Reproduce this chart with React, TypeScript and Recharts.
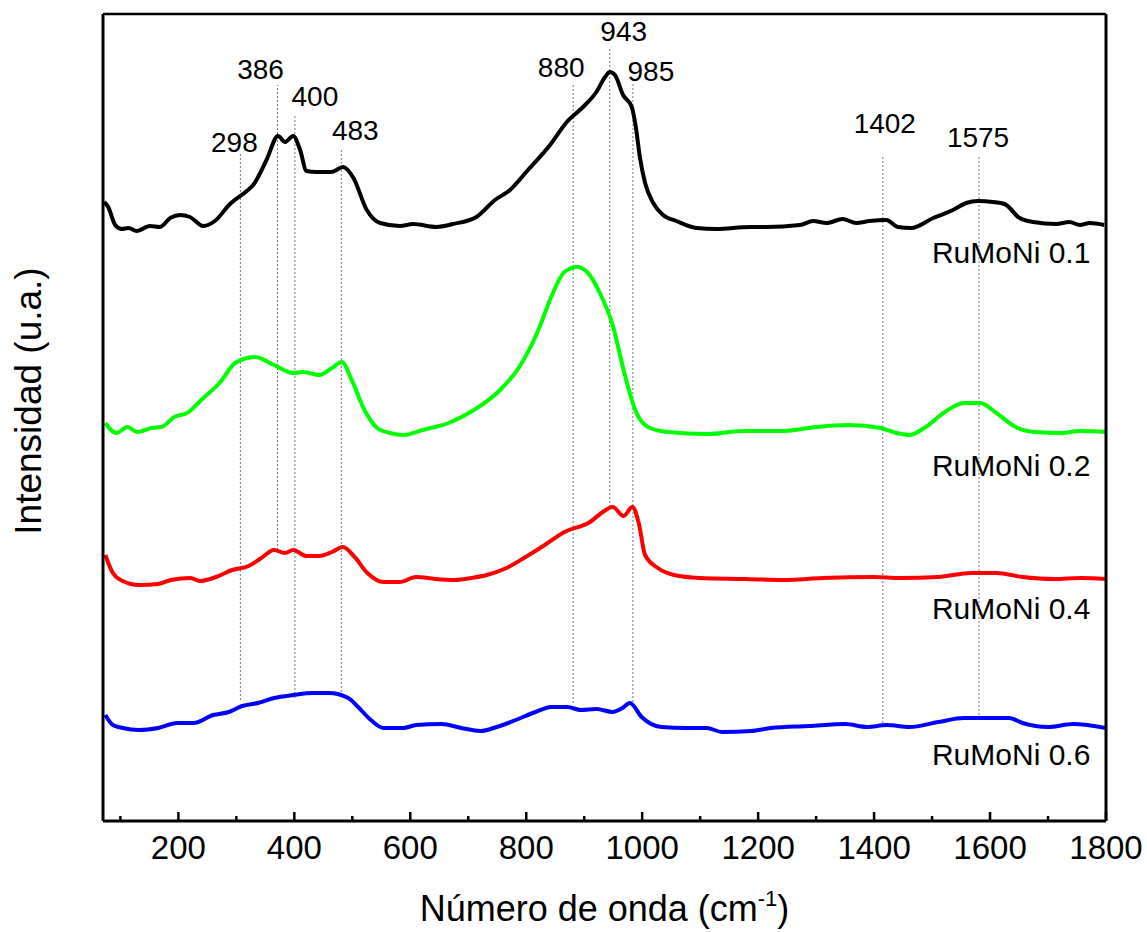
import { LineChart, Line, XAxis, YAxis, ReferenceLine, ReferenceDot } from "recharts";

// Raman spectra, wavenumber (cm-1) vs. offset intensity (a.u.)
const wn01 = [72, 79, 91, 102, 114, 128, 151, 168, 186, 203, 220, 243, 263, 289, 318, 329, 352, 372, 384, 398, 410, 421, 438, 464, 484, 502, 525, 548, 582, 605, 645, 674, 714, 746, 772, 800, 841, 870, 898, 921, 936, 944, 953, 967, 982, 989, 996, 1005, 1019, 1036, 1059, 1094, 1128, 1186, 1214, 1272, 1295, 1318, 1346, 1369, 1392, 1421, 1441, 1464, 1502, 1536, 1559, 1579, 1605, 1625, 1651, 1674, 1714, 1737, 1755, 1772, 1797];
const int01 = [619, 614, 596, 592, 593, 590, 595, 594, 603, 606, 604, 595, 600, 617, 630, 636, 661, 685, 679, 685, 671, 650, 649, 649, 654, 643, 611, 598, 595, 597, 594, 597, 604, 621, 631, 649, 676, 699, 714, 729, 744, 749, 746, 726, 714, 694, 664, 638, 618, 606, 600, 593, 592, 594, 594, 596, 600, 598, 602, 598, 600, 601, 594, 593, 603, 611, 618, 620, 619, 617, 603, 599, 597, 599, 596, 598, 596];

const wn02 = [74, 93, 112, 129, 154, 171, 193, 215, 243, 271, 298, 332, 365, 398, 415, 443, 465, 482, 499, 521, 543, 565, 588, 621, 666, 710, 755, 788, 821, 843, 866, 888, 905, 927, 949, 971, 988, 1010, 1044, 1111, 1177, 1244, 1300, 1355, 1411, 1439, 1461, 1489, 1522, 1555, 1583, 1611, 1644, 1678, 1722, 1756, 1800];
const int02 = [398, 388, 394, 389, 393, 394, 404, 408, 423, 438, 458, 464, 456, 448, 449, 446, 453, 459, 441, 411, 393, 388, 386, 391, 398, 411, 431, 454, 491, 524, 549, 554, 549, 528, 496, 444, 411, 394, 389, 387, 390, 390, 394, 396, 393, 388, 386, 394, 409, 418, 418, 408, 394, 389, 388, 390, 389];

const wn04 = [74, 87, 104, 132, 165, 187, 221, 237, 265, 293, 321, 343, 365, 384, 398, 421, 443, 465, 484, 504, 526, 554, 582, 610, 643, 677, 705, 732, 766, 799, 832, 866, 910, 932, 949, 968, 983, 994, 1005, 1027, 1055, 1099, 1177, 1244, 1311, 1400, 1444, 1511, 1567, 1611, 1656, 1711, 1756, 1800];
const int04 = [266, 248, 240, 236, 237, 241, 243, 240, 244, 251, 255, 263, 271, 268, 271, 265, 265, 269, 274, 264, 248, 239, 239, 244, 242, 241, 243, 246, 253, 264, 276, 289, 299, 309, 314, 305, 314, 298, 266, 253, 246, 243, 242, 241, 243, 244, 243, 244, 248, 248, 244, 242, 243, 242];

const wn06 = [74, 87, 104, 132, 165, 198, 226, 260, 287, 310, 337, 365, 398, 432, 460, 493, 510, 532, 554, 588, 610, 654, 688, 721, 749, 782, 816, 843, 871, 894, 921, 949, 966, 979, 999, 1033, 1077, 1111, 1138, 1188, 1222, 1288, 1350, 1388, 1422, 1461, 1511, 1555, 1600, 1633, 1656, 1700, 1744, 1800];
const int06 = [106, 96, 93, 91, 93, 98, 98, 106, 109, 115, 118, 123, 126, 128, 128, 123, 114, 101, 93, 93, 96, 97, 93, 90, 94, 101, 109, 114, 114, 111, 112, 109, 113, 118, 104, 94, 93, 93, 89, 90, 93, 95, 97, 94, 96, 94, 99, 103, 103, 103, 98, 94, 97, 93];

const seriesNames = ["RuMoNi 0.1", "RuMoNi 0.2", "RuMoNi 0.4", "RuMoNi 0.6"];
const seriesColors = ["#000000", "#00ff00", "#ff0000", "#0000ff"];
// where each sample name sits (right end, baseline)
const nameX = [1773, 1773, 1773, 1773];
const nameY = [558, 345, 202, 56];

// marked bands: label, where the guide line is drawn, its top and bottom
const peakLabels = ["298", "386", "400", "483", "880", "943", "985", "1402", "1575"];
const peakPos = [307, 371, 401, 481, 881, 944, 984, 1415, 1581];
const peakTop = [668, 736, 706, 671, 736, 773, 738, 664, 664];
const peakBottom = [121, 271, 123, 129, 118, 314, 119, 98, 106];
const labelShift = [[-6, -1], [-17, -6], [20, -9], [14, -10], [-12, -8], [14, -7], [18, -2], [2, -24], [-1, -10]];

const xTicks = [100, 200, 300, 400, 500, 600, 700, 800, 900, 1000, 1100, 1200, 1300, 1400, 1500, 1600, 1700, 1800];

const FONT = "'Liberation Sans', Arial, sans-serif";

const toPoints = (xs: number[], ys: number[]) => xs.map((x, i) => ({ x, y: ys[i] }));
const series = [
  toPoints(wn01, int01),
  toPoints(wn02, int02),
  toPoints(wn04, int04),
  toPoints(wn06, int06),
];

const BottomTick = (props: any) => {
  const { x, y, payload } = props;
  const major = payload.value % 200 === 0;
  return (
    <g>
      <line x1={x} x2={x} y1={y} y2={y - (major ? 9 : 5)} stroke="#000" strokeWidth={2.5} />
      {major && (
        <text x={x} y={y + 38} textAnchor="middle" fontSize={33} fontFamily={FONT} fill="#000">
          {payload.value}
        </text>
      )}
    </g>
  );
};

const TopTick = (props: any) => {
  const { x, y } = props;
  return <line x1={x} x2={x} y1={y} y2={y + 4} stroke="#000" strokeWidth={2} />;
};

export default function App() {
  return (
    <div style={{ position: "fixed", left: 0, top: 0, width: 1147, height: 932, background: "#fff" }}>
      <LineChart width={1147} height={932} margin={{ top: 13, right: 40, bottom: 0, left: 0 }}>
        <XAxis
          dataKey="x"
          type="number"
          domain={[70, 1800]}
          allowDataOverflow
          ticks={xTicks}
          interval={0}
          height={111}
          tickSize={0}
          tickMargin={0}
          tickLine={false}
          tick={<BottomTick />}
          axisLine={{ stroke: "#000", strokeWidth: 3 }}
          label={(p: any) => {
            const vb = p.viewBox;
            return (
              <text x={vb.x + vb.width / 2} y={921} textAnchor="middle" fontSize={36} fontFamily={FONT} fill="#000">
                Número de onda (cm
                <tspan fontSize={22} dy={-15}>-1</tspan>
                <tspan dy={15}>)</tspan>
              </text>
            );
          }}
        />
        <XAxis
          xAxisId="top"
          orientation="top"
          type="number"
          domain={[70, 1800]}
          allowDataOverflow
          ticks={xTicks}
          interval={0}
          height={1}
          tickSize={0}
          tickMargin={0}
          tickLine={false}
          tick={<TopTick />}
          axisLine={{ stroke: "#000", strokeWidth: 2.5 }}
        />
        <YAxis
          type="number"
          domain={[0, 807]}
          allowDataOverflow
          width={103}
          tick={false}
          tickLine={false}
          axisLine={{ stroke: "#000", strokeWidth: 3 }}
          label={() => (
            <text
              x={41}
              y={401}
              transform="rotate(-90 41 401)"
              textAnchor="middle"
              fontSize={37}
              fontFamily={FONT}
              fill="#000"
            >
              Intensidad (u.a.)
            </text>
          )}
        />
        <YAxis
          yAxisId="r"
          orientation="right"
          type="number"
          domain={[0, 807]}
          width={1}
          tick={false}
          tickLine={false}
          axisLine={{ stroke: "#000", strokeWidth: 3 }}
        />

        {peakLabels.map((lab, i) => (
          <ReferenceLine
            key={lab}
            segment={[
              { x: peakPos[i], y: peakBottom[i] },
              { x: peakPos[i], y: peakTop[i] },
            ]}
            stroke="#777"
            strokeWidth={1}
            strokeDasharray="2 2"
            label={(p: any) => (
              <text
                x={p.viewBox.x + labelShift[i][0]}
                y={p.viewBox.y + labelShift[i][1]}
                textAnchor="middle"
                fontSize={28}
                fontFamily={FONT}
                fill="#000"
              >
                {lab}
              </text>
            )}
          />
        ))}

        {series.map((pts, i) => (
          <Line
            key={seriesNames[i]}
            data={pts}
            dataKey="y"
            type="monotone"
            stroke={seriesColors[i]}
            strokeWidth={4}
            dot={false}
            activeDot={false}
            isAnimationActive={false}
          />
        ))}

        {seriesNames.map((name, i) => (
          <ReferenceDot
            key={name}
            x={nameX[i]}
            y={nameY[i]}
            r={0}
            fill="none"
            stroke="none"
            label={(p: any) => (
              <text
                x={p.viewBox.x + (p.viewBox.width || 0) / 2}
                y={p.viewBox.y + (p.viewBox.height || 0) / 2}
                textAnchor="end"
                fontSize={30}
                fontFamily={FONT}
                fill="#000"
              >
                {name}
              </text>
            )}
          />
        ))}
      </LineChart>
    </div>
  );
}
